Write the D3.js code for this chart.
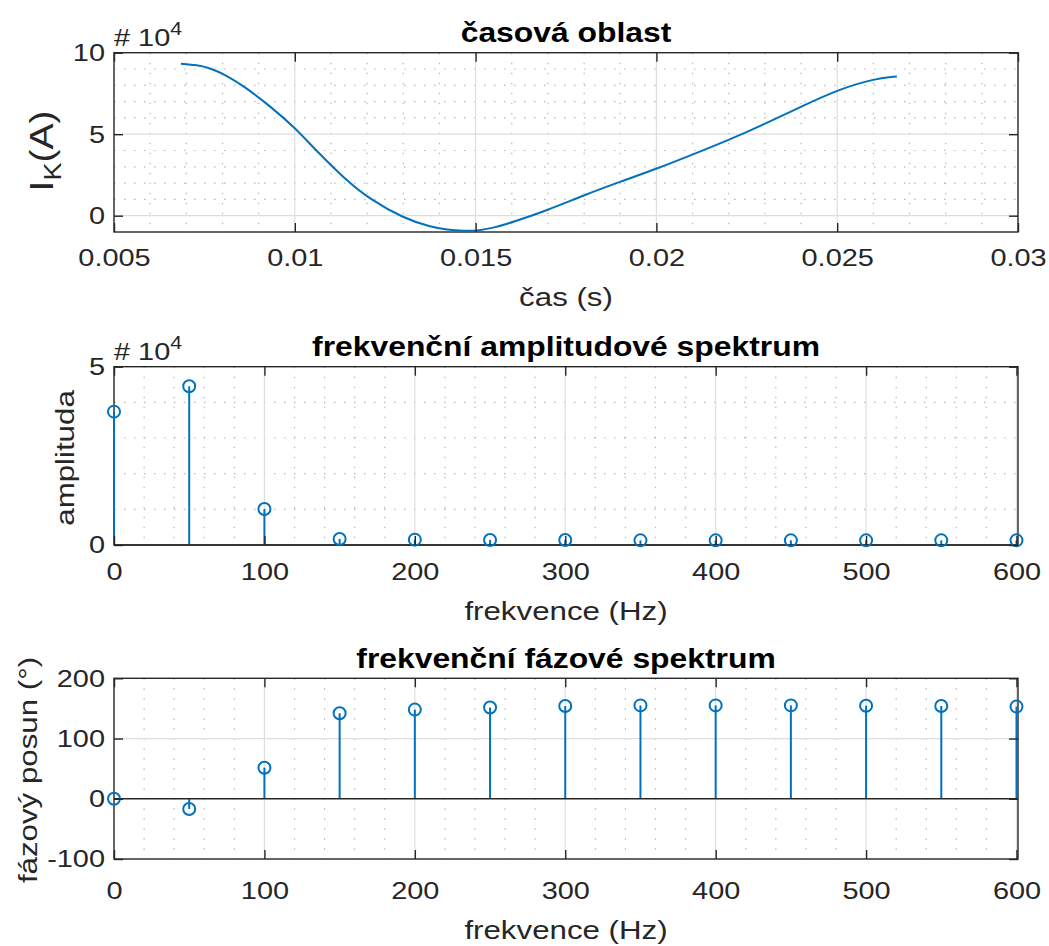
<!DOCTYPE html>
<html lang="cs">
<head>
<meta charset="UTF-8">
<script src="https://cdnjs.cloudflare.com/ajax/libs/d3/7.8.5/d3.min.js"></script>
<style>
    body { margin: 0; background: #fff; }
    svg { display: block; }
    text { font-family: "Liberation Sans", Arial, Helvetica, sans-serif; fill: #262626; }
    .title { font-weight: bold; fill: #000; }
</style>
</head>
<body>
<svg id="chart" width="1049" height="946"></svg>
<script>
    // time domain, t in s, current in 1e4 A
    var timeS = [0.00685, 0.0073, 0.00766, 0.0081, 0.00859, 0.00933, 0.0100, 0.01062, 0.01136, 0.0121,
        0.01302, 0.01376, 0.0142, 0.01469, 0.01503, 0.0155, 0.01607, 0.0170, 0.01801, 0.01903,
        0.02005, 0.02106, 0.02208, 0.02287, 0.02403, 0.02506, 0.02606, 0.02665];
    var currentA = [9.32, 9.24, 9.06, 8.62, 7.95, 6.70, 5.41, 3.93, 2.30, 0.96,
        -0.16, -0.70, -0.86, -0.94, -0.93, -0.75, -0.37, 0.35, 1.27, 2.11,
        2.91, 3.80, 4.72, 5.50, 6.72, 7.77, 8.42, 8.54];

    // spectrum
    var freqHz = [0, 50, 100, 150, 200, 250, 300, 350, 400, 450, 500, 550, 600];
    var amplitude = [3.74, 4.45, 1.01, 0.17, 0.15, 0.14, 0.14, 0.13, 0.13, 0.13, 0.13, 0.13, 0.13]; // x 1e4
    var phaseDeg = [0, -17, 51.5, 142, 148, 151.5, 154, 155, 155, 155, 154.5, 154, 153];

    // ticks
    var timeTicks = [0.005, 0.01, 0.015, 0.02, 0.025, 0.03];
    var timeTickLabels = ["0.005", "0.01", "0.015", "0.02", "0.025", "0.03"];
    var currentTicks = [0, 5, 10];
    var freqTicks = [0, 100, 200, 300, 400, 500, 600];
    var ampTicks = [0, 5];
    var phaseTicks = [-100, 0, 100, 200];

    var SX = 1.18;          // the reference font is wider than Arial
    var BLUE = "#0072bd";
    var INK = "#262626";
    var L = 114, R = 1018;

    var svg = d3.select("#chart");

    function plain(d) { return String(d); }   // hyphen minus, as in the picture

    function stretch(sel, rot) {
        sel.each(function () {
            var t = d3.select(this);
            var x = +t.attr("x") || 0, y = +t.attr("y") || 0;
            t.attr("x", 0).attr("y", 0)
                .attr("transform", "translate(" + x + "," + y + ")" + (rot ? " rotate(" + rot + ")" : "") + " scale(" + SX + ",1)");
        });
    }

    function hLines(g, vals, y, x0, x1, stroke, dash) {
        g.append("g").selectAll("line").data(vals).join("line")
            .attr("x1", x0).attr("x2", x1)
            .attr("y1", function (d) { return y(d); }).attr("y2", function (d) { return y(d); })
            .attr("stroke", stroke).attr("stroke-width", 1.2)
            .attr("stroke-dasharray", dash || null);
    }

    function vLines(g, vals, x, y0, y1, stroke, dash) {
        g.append("g").selectAll("line").data(vals).join("line")
            .attr("y1", y0).attr("y2", y1)
            .attr("x1", function (d) { return x(d); }).attr("x2", function (d) { return x(d); })
            .attr("stroke", stroke).attr("stroke-width", 1.2)
            .attr("stroke-dasharray", dash || null);
    }

    function panel(p) {
        var g = svg.append("g");
        var x = p.x, y = p.y;
        var top = y.range()[1], bot = y.range()[0];

        // grid
        vLines(g, p.minorX, x, top, bot, "#b8b8b8", "1.5,8.5");
        hLines(g, p.minorY, y, L, R, "#b8b8b8", "1.5,8.5");
        vLines(g, p.gridX, x, top, bot, "#dedede");
        hLines(g, p.gridY, y, L, R, "#dedede");

        g.append("rect").attr("x", L).attr("y", top).attr("width", R - L).attr("height", bot - top)
            .attr("fill", "none").attr("stroke", INK).attr("stroke-width", 1.4);

        p.draw(g.append("g"));

        // axes (ticks inside)
        var fs = 24.5;
        var xb = g.append("g").attr("transform", "translate(0," + bot + ")")
            .call(d3.axisBottom(x).tickValues(p.xTicks).tickFormat(p.xFormat)
                .tickSizeInner(-9).tickSizeOuter(0).tickPadding(p.xPad));
        var xt = g.append("g").attr("transform", "translate(0," + top + ")")
            .call(d3.axisTop(x).tickValues(p.xTicks).tickFormat("").tickSizeInner(-9).tickSizeOuter(0));
        var yl = g.append("g").attr("transform", "translate(" + L + ",0)")
            .call(d3.axisLeft(y).tickValues(p.yTicks).tickFormat(plain)
                .tickSizeInner(-9).tickSizeOuter(0).tickPadding(9));
        var yr = g.append("g").attr("transform", "translate(" + R + ",0)")
            .call(d3.axisRight(y).tickValues(p.yTicks).tickFormat("").tickSizeInner(-9).tickSizeOuter(0));
        [xb, xt, yl, yr].forEach(function (a) {
            a.select(".domain").remove();
            a.attr("font-family", null).attr("font-size", fs);
            a.selectAll("line").attr("stroke", INK).attr("stroke-width", 1.4);
            a.selectAll("text").attr("fill", INK);
        });
        stretch(xb.selectAll("text"));
        stretch(yl.selectAll("text"));

        // title
        var tt = g.append("text").attr("class", "title").attr("x", (L + R) / 2).attr("y", top - 10.7)
            .attr("text-anchor", "middle").attr("font-size", 27).text(p.title);
        stretch(tt);

        // x label
        var xl = g.append("text").attr("x", (L + R) / 2).attr("y", bot + p.xLabelOff)
            .attr("text-anchor", "middle").attr("font-size", 26.5).text(p.xLabel);
        stretch(xl);

        // y label
        var ylab = g.append("text").attr("x", p.yLabelX).attr("y", p.yLabelY)
            .attr("text-anchor", "middle").attr("font-size", p.yLabelSize || 26.5);
        p.yLabel(ylab);
        stretch(ylab, -90);

        // exponent
        if (p.exponent) {
            var ex = g.append("text").attr("x", L).attr("y", top - 7).attr("font-size", fs);
            ex.append("tspan").text("# 10");
            ex.append("tspan").attr("dy", -11).attr("font-size", 18).text("4");
            stretch(ex);
        }
    }

    // ---- time domain ----
    var xT = d3.scaleLinear().domain([0.005, 0.03]).range([L, R]);
    var yT = d3.scaleLinear().domain([-1, 10]).range([232, 52.7]);
    panel({
        x: xT, y: yT,
        minorX: d3.range(6, 30).filter(function (i) { return i % 5; }).map(function (i) { return i / 1000; }),
        minorY: [1, 2, 3, 4, 6, 7, 8, 9],
        gridX: [0.01, 0.015, 0.02, 0.025],
        gridY: [0, 5],
        xTicks: timeTicks,
        xFormat: function (d, i) { return timeTickLabels[i]; },
        yTicks: currentTicks,
        xPad: 17,
        title: "časová oblast",
        xLabel: "čas (s)",
        xLabelOff: 74,
        yLabelX: 53, yLabelY: 151, yLabelSize: 33,
        yLabel: function (t) {
            t.append("tspan").text("I");
            t.append("tspan").attr("dy", 8).attr("font-size", 23).text("K");
            t.append("tspan").attr("dy", -8).text("(A)");
        },
        exponent: true,
        draw: function (g) {
            var line = d3.line().x(function (d, i) { return xT(timeS[i]); })
                .y(function (d) { return yT(d); }).curve(d3.curveBasis);
            g.append("path").datum(currentA).attr("d", line)
                .attr("fill", "none").attr("stroke", BLUE).attr("stroke-width", 2);
        }
    });

    // ---- stem helper ----
    function stems(g, x, y, vals) {
        g.append("g").selectAll("line").data(vals).join("line")
            .attr("x1", function (d, i) { return x(freqHz[i]); })
            .attr("x2", function (d, i) { return x(freqHz[i]); })
            .attr("y1", y(0)).attr("y2", function (d) { return y(d); })
            .attr("stroke", BLUE).attr("stroke-width", 2);
        g.append("line").attr("x1", L).attr("x2", R).attr("y1", y(0)).attr("y2", y(0))
            .attr("stroke", INK).attr("stroke-width", 1.4);
        g.append("g").selectAll("circle").data(vals).join("circle")
            .attr("cx", function (d, i) { return x(freqHz[i]); })
            .attr("cy", function (d) { return y(d); })
            .attr("r", 6).attr("fill", "none").attr("stroke", BLUE).attr("stroke-width", 2);
    }

    // ---- amplitude spectrum ----
    var xA = d3.scaleLinear().domain([0, 601]).range([L, R]);
    var yA = d3.scaleLinear().domain([0, 5]).range([545, 366.7]);
    panel({
        x: xA, y: yA,
        minorX: d3.range(20, 601, 20).filter(function (d) { return d % 100; }),
        minorY: [1, 2, 3, 4],
        gridX: [100, 200, 300, 400, 500, 600],
        gridY: [],
        xTicks: freqTicks,
        xFormat: plain,
        yTicks: ampTicks,
        xPad: 18,
        title: "frekvenční amplitudové spektrum",
        xLabel: "frekvence (Hz)",
        xLabelOff: 75,
        yLabelX: 74, yLabelY: 458,
        yLabel: function (t) { t.text("amplituda"); },
        exponent: true,
        draw: function (g) { stems(g, xA, yA, amplitude); }
    });

    // ---- phase spectrum ----
    var xP = d3.scaleLinear().domain([0, 601]).range([L, R]);
    var yP = d3.scaleLinear().domain([-100, 200]).range([859, 678.3]);
    panel({
        x: xP, y: yP,
        minorX: d3.range(20, 601, 20).filter(function (d) { return d % 100; }),
        minorY: [],
        gridX: [100, 200, 300, 400, 500, 600],
        gridY: [100],
        xTicks: freqTicks,
        xFormat: plain,
        yTicks: phaseTicks,
        xPad: 23,
        title: "frekvenční fázové spektrum",
        xLabel: "frekvence (Hz)",
        xLabelOff: 80,
        yLabelX: 36.5, yLabelY: 770,
        yLabel: function (t) { t.text("fázový posun (°)"); },
        draw: function (g) { stems(g, xP, yP, phaseDeg); }
    });
</script>
</body>
</html>
